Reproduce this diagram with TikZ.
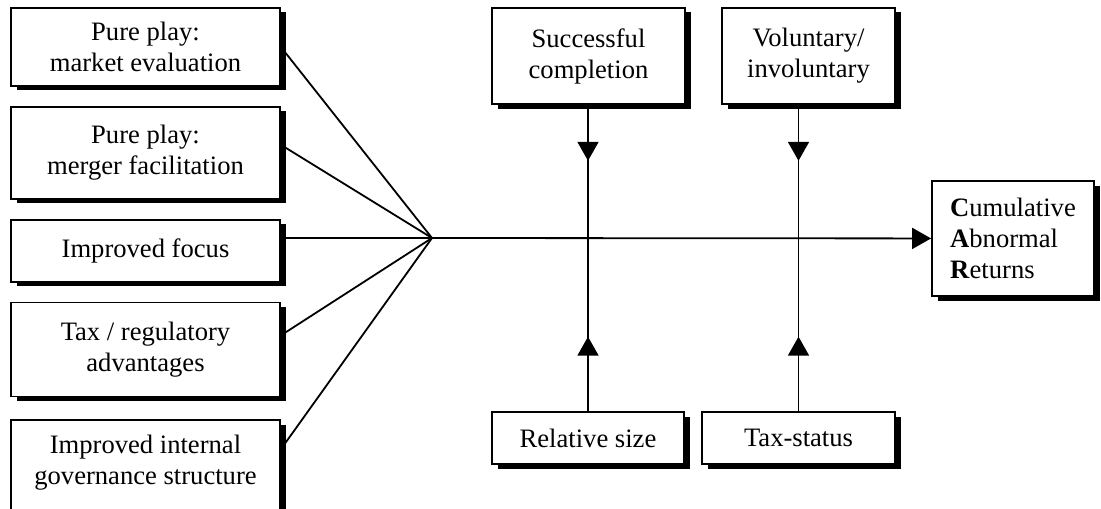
\documentclass[tikz,border=0pt]{standalone}
\usepackage{fontspec}
\setmainfont{Liberation Serif}
\usetikzlibrary{positioning}
\usetikzlibrary{calc}
\usetikzlibrary{shadows}
\usetikzlibrary{arrows.meta}
\usetikzlibrary{decorations.markings}
\tikzset{>={Triangle[length=9.5pt,width=10.5pt]}}
\tikzset{factor/.style={draw, fill=white, align=center, inner sep=2pt, minimum width=134.5pt,
    drop shadow={shadow xshift=2.75pt, shadow yshift=-2.25pt, fill=black, opacity=1}}}
\tikzset{midarrow/.style={decoration={
      markings,
      mark=at position #1 with {\arrow{>}}},postaction={decorate}}}
\begin{document}
\begin{tikzpicture}[x=0.5pt, y=-0.5pt, line width=0.9pt, node distance=9.5pt,
    font=\fontsize{13.3}{15.5}\selectfont]
\clip (0,0) rectangle (1101,508);

% motives
\node[factor, minimum height=39pt] (b1) at (145.5,47) {Pure play:\\market evaluation};
\node[factor, minimum height=46pt, below=of b1] (b2) {Pure play:\\merger facilitation};
\node[factor, minimum height=31pt, below=of b2] (b3) {Improved focus};
\node[factor, minimum height=47pt, below=of b3] (b4) {Tax / regulatory\\advantages};
\node[factor, minimum height=54pt, below=11pt of b4] (b5) {Improved internal\\governance structure\\[-1pt]\mbox{}};

% moderators
\node[factor, minimum width=96.5pt, minimum height=48pt] (suc) at (588.5,56) {Successful\\completion};
\node[factor, minimum width=86.5pt, minimum height=48pt] (vol) at (808.5,56) {Voluntary/\\involuntary};
\node[factor, minimum width=96pt, minimum height=26pt] (rel) at (588,438) {Relative size};
\node[factor, minimum width=96.5pt, minimum height=26pt] (tax) at (798.5,438) {Tax-status};

\node[factor, align=left, minimum width=81pt, minimum height=57.5pt] (car) at (1013,238.5)
  {\textbf{C}umulative\\\textbf{A}bnormal\\\textbf{R}eturns};

\coordinate (fan) at (432,238);
\coordinate (x1) at (rel |- fan);
\coordinate (x2) at (tax |- fan);

\draw (b1.east) -- (fan);
\draw ($(b2.east)+(0,-8)$) -- (fan);
\draw (b3.east |- fan) -- (fan);
\draw ($(b4.east)+(0,-14)$) -- (fan);
\draw ($(b5.east)+(0,-25)$) -- (fan);
\draw[->] (fan) -- (car);

\draw[midarrow=0.42] (x1 |- suc.south) -- (x1);
\draw[midarrow=0.42] (x2 |- vol.south) -- (x2);
\draw[midarrow=0.43] (rel) -- (x1);
\draw[midarrow=0.43] (tax) -- (x2);
\end{tikzpicture}
\end{document}
